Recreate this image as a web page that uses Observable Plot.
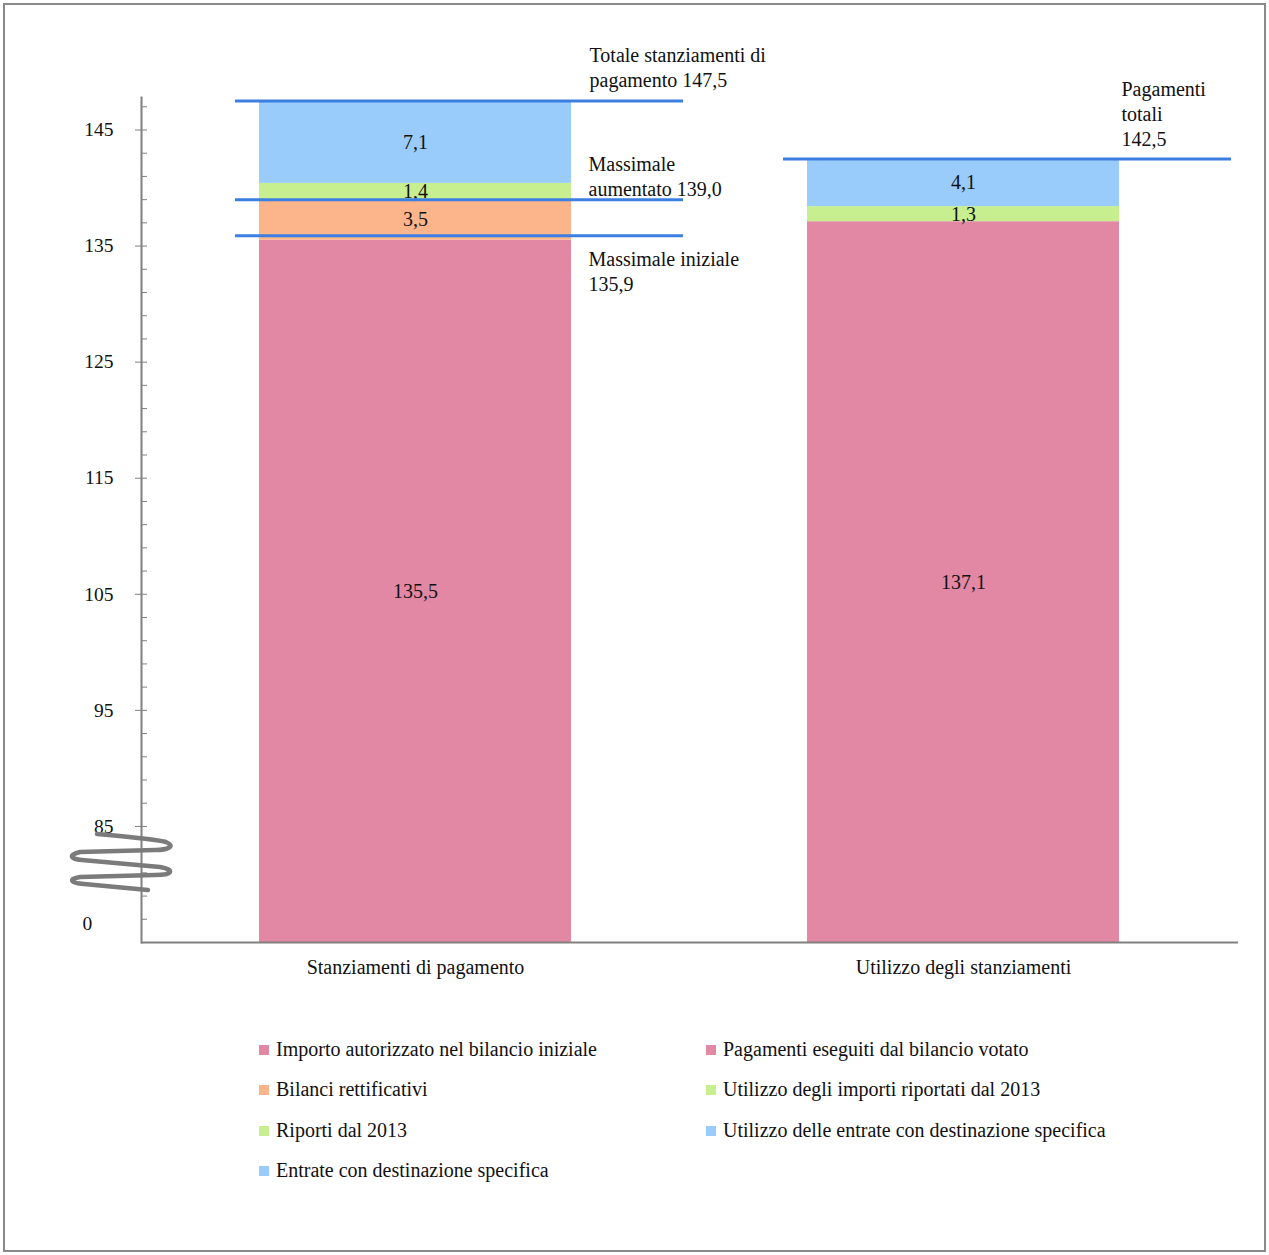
<!DOCTYPE html>
<html>
<head>
<meta charset="utf-8">
<script src="https://cdn.jsdelivr.net/npm/d3@7"></script>
<script src="https://cdn.jsdelivr.net/npm/@observablehq/plot@0.6"></script>
<style>
  html, body { margin: 0; padding: 0; background: #fff; }
  #wrap { position: relative; width: 1269px; height: 1255px; overflow: hidden; font-family: "Liberation Serif", "DejaVu Serif", serif; color: #111; }
  #border { position: absolute; left: 3px; top: 3px; width: 1259px; height: 1245px; border: 2px solid #8a8a8a; }
  #chart { position: absolute; left: 0; top: 0; }
  #brk { position: absolute; left: 0; top: 0; }
  .leg { position: absolute; font-size: 20px; white-space: nowrap; line-height: 20px; }
  .leg span.sw { display: inline-block; width: 10px; height: 10px; margin-right: 7px; vertical-align: 1px; }
</style>
</head>
<body>
<div id="wrap">
  <div id="border"></div>
  <div id="chart"></div>
  <div id="legend"></div>
</div>
<script>
// ---- data ----
const categories = ["Stanziamenti di pagamento", "Utilizzo degli stanziamenti"];
const seriesNames = [
  "Importo autorizzato nel bilancio iniziale",
  "Bilanci rettificativi",
  "Riporti dal 2013",
  "Entrate con destinazione specifica",
  "Pagamenti eseguiti dal bilancio votato",
  "Utilizzo degli importi riportati dal 2013",
  "Utilizzo delle entrate con destinazione specifica"
];
const seriesCategory = [categories[0], categories[0], categories[0], categories[0], categories[1], categories[1], categories[1]];
const seriesValues = [135.5, 3.5, 1.4, 7.1, 137.1, 1.3, 4.1];
const seriesLabels = ["135,5", "3,5", "1,4", "7,1", "137,1", "1,3", "4,1"];
const seriesColors = ["#e288a4", "#fcb48b", "#c8ef8f", "#9accfb", "#e288a4", "#c8ef8f", "#9accfb"];

const refCategory = [categories[0], categories[0], categories[0], categories[1]];
const refValues = [147.5, 139.0, 135.9, 142.5];
const refLabels = ["Totale stanziamenti di\npagamento 147,5", "Massimale\naumentato 139,0", "Massimale iniziale\n135,9", "Pagamenti\ntotali\n142,5"];

const breakValue = 75;          // axis break: shown as "0"
const breakLabel = "0";
const majorTicks = [85, 95, 105, 115, 125, 135, 145];
const minorTicks = [77, 79, 81, 83, 85, 87, 89, 91, 93, 95, 97, 99, 101, 103, 105, 107, 109, 111, 113, 115, 117, 119, 121, 123, 125, 127, 129, 131, 133, 135, 137, 139, 141, 143, 145, 147];
const yTop = 147.8;

const legendLeft = [0, 1, 2, 3];
const legendRight = [4, 5, 6];

// ---- build table ----
const rows = [];
const cum = {};
seriesNames.forEach((s, i) => {
  const c = seriesCategory[i];
  const y1 = cum[c] || 0;
  const y2 = y1 + seriesValues[i];
  cum[c] = y2;
  rows.push({series: s, cat: c, value: seriesValues[i], y1, y2,
    ymid: (Math.max(y1, breakValue) + y2) / 2, label: seriesLabels[i]});
});
const refs = refValues.map((v, i) => ({cat: refCategory[i], value: v, label: refLabels[i]}));

const font = "Liberation Serif, DejaVu Serif, serif";
const axisGrey = "#808080";
const lineBlue = "#3d7fe0";
const fs = 20;

const chart = Plot.plot({
  width: 1269,
  height: 1000,
  marginLeft: 141,
  marginRight: 31,
  marginTop: 97,
  marginBottom: 58,
  style: {fontFamily: font, fontSize: "20px", color: "#111", background: "transparent", overflow: "visible"},
  x: {type: "band", domain: categories, paddingInner: 0.43, paddingOuter: 0.215, label: null},
  y: {domain: [breakValue, yTop], clamp: true, label: null},
  color: {domain: seriesNames, range: seriesColors},
  marks: [
    Plot.barY(rows, {x: "cat", y1: "y1", y2: "y2", fill: "series"}),
    Plot.text(rows, {x: "cat", y: "ymid", text: "label", fontSize: fs, fill: "#111"}),
    Plot.tickY(refs, {x: "cat", y: "value", stroke: lineBlue, strokeWidth: 3, insetLeft: -24, insetRight: -112}),
    // annotations
    Plot.text(refs.filter((d, i) => i === 0), {x: "cat", y: "value", text: "label", textAnchor: "start", lineAnchor: "bottom", dx: 174, dy: -14, lineHeight: 1.25, fontSize: fs, fill: "#111"}),
    Plot.text(refs.filter((d, i) => i === 1), {x: "cat", y: "value", text: "label", textAnchor: "start", lineAnchor: "bottom", dx: 173, dy: -4, lineHeight: 1.25, fontSize: fs, fill: "#111"}),
    Plot.text(refs.filter((d, i) => i === 2), {x: "cat", y: "value", text: "label", textAnchor: "start", lineAnchor: "top", dx: 173, dy: 13, lineHeight: 1.25, fontSize: fs, fill: "#111"}),
    Plot.text(refs.filter((d, i) => i === 3), {x: "cat", y: "value", text: "label", textAnchor: "start", lineAnchor: "bottom", dx: 158, dy: -13, lineHeight: 1.25, fontSize: fs, fill: "#111"}),
    // axes
    Plot.ruleY([breakValue], {stroke: axisGrey, strokeWidth: 2}),
    Plot.frame({anchor: "left", stroke: axisGrey, strokeWidth: 2}),
    Plot.axisY(minorTicks, {anchor: "left", tickSize: -6, tickFormat: () => "", stroke: axisGrey, strokeWidth: 1}),
    Plot.axisY(majorTicks, {anchor: "left", tickSize: 6, tickPadding: 22, stroke: axisGrey, strokeWidth: 1, fontSize: 19.5, fill: "#111", label: null}),
    Plot.text([breakLabel], {y: () => breakValue + 1.6, text: d => d, frameAnchor: "left", dx: -59, fontSize: 19.5, fill: "#111"}),
    Plot.axisX({tickSize: 0, tickPadding: 17, fontSize: fs, fill: "#111", label: null})
  ]
});
document.getElementById("chart").appendChild(chart);

// axis-break symbol (decoration)
const brk = d3.select("#wrap").append("svg").attr("id", "brk").attr("width", 1269).attr("height", 1000);
brk.append("path")
  .attr("d", "M97,834 C130,837 160,840 166,842 C176,846 168,850 155,850 L80,852 C68,855 70,859 82,860 L160,867 C176,870 172,875 155,875 L80,877 C68,879 70,883 84,884 L148,890")
  .attr("fill", "none").attr("stroke", "#7b7b7b").attr("stroke-width", 4.5).attr("stroke-linecap", "round");

// legend
const leg = document.getElementById("legend");
function addLegend(idx, left, rowsY) {
  idx.forEach((k, j) => {
    const d = document.createElement("div");
    d.className = "leg";
    d.style.left = left + "px";
    d.style.top = rowsY[j] + "px";
    d.innerHTML = `<span class="sw" style="background:${seriesColors[k]}"></span>${seriesNames[k]}`;
    leg.appendChild(d);
  });
}
addLegend(legendLeft, 259, [1039, 1079, 1120, 1160]);
addLegend(legendRight, 706, [1039, 1079, 1120]);
</script>
</body>
</html>
